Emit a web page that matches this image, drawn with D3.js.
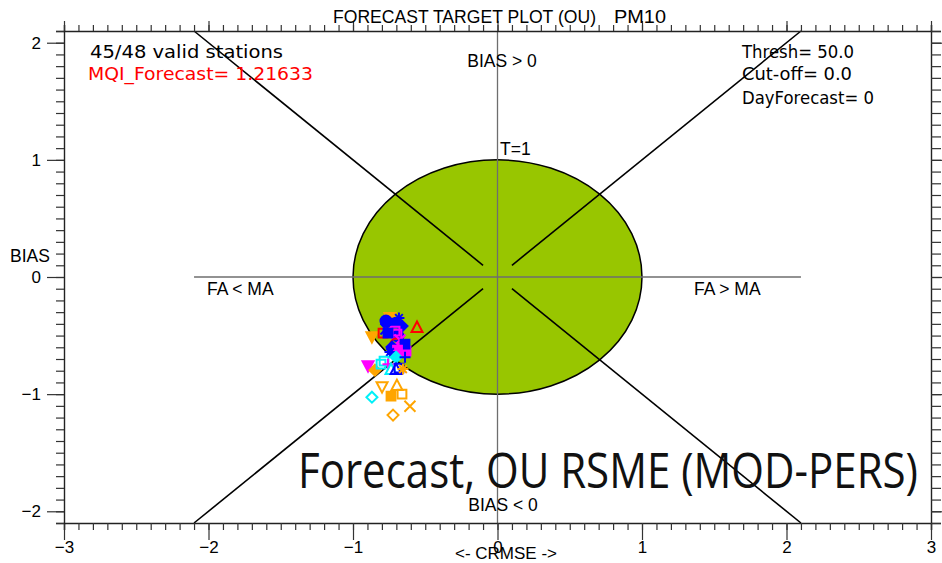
<!DOCTYPE html>
<html>
<head>
<meta charset="utf-8">
<script src="https://cdn.jsdelivr.net/npm/d3@7"></script>
<style>
  html, body { margin: 0; padding: 0; background: #fff; }
  svg { display: block; }
</style>
</head>
<body>
<svg id="chart" width="942" height="563"></svg>
<script>
// Station results: centred RMSE (x) and normalised bias (y)
const crmse = [-0.744, -0.557, -0.772, -0.682, -0.709, -0.661, -0.689, -0.869, -0.792, -0.709,
               -0.696, -0.758, -0.772, -0.702, -0.675, -0.661, -0.633, -0.730, -0.640, -0.692,
               -0.744, -0.702, -0.640, -0.896, -0.848, -0.806, -0.785, -0.758, -0.737, -0.702,
               -0.682, -0.654, -0.869, -0.799, -0.696, -0.737, -0.661, -0.606, -0.723];
const bias  = [-0.350, -0.427, -0.376, -0.350, -0.393, -0.419, -0.504, -0.513, -0.479, -0.462,
               -0.487, -0.479, -0.444, -0.573, -0.538, -0.607, -0.632, -0.598, -0.573, -0.624,
               -0.641, -0.684, -0.684, -0.761, -0.795, -0.744, -0.718, -0.744, -0.786, -0.786,
               -0.778, -0.786, -1.026, -0.940, -0.923, -1.017, -1.000, -1.103, -1.179];
const symbols = ["triDown", "triUp", "circle", "asterisk", "square", "diamond", "circle", "triDown", "square", "square",
                 "square", "square", "x", "circle", "x", "square", "square", "diamond", "square", "square",
                 "asterisk", "diamond", "plus", "triDown", "diamond", "square", "square", "plus", "triUp", "triUp",
                 "square", "asterisk", "diamond", "triDown", "triUp", "square", "square", "x", "diamond"];
const colors = ["orange", "red", "blue", "blue", "blue", "blue", "blue", "orange", "red", "magenta",
                "magenta", "blue", "blue", "red", "magenta", "magenta", "magenta", "blue", "blue", "magenta",
                "blue", "cyan", "blue", "magenta", "orange", "cyan", "cyan", "magenta", "cyan", "blue",
                "blue", "orange", "cyan", "orange", "orange", "orange", "orange", "orange", "orange"];
const filled = [true, false, true, false, true, true, true, true, false, false,
                false, true, false, false, false, false, true, true, true, true,
                false, true, false, true, true, false, false, false, false, false,
                false, false, false, false, false, true, false, false, false];

const xMajorTicks = [-3, -2, -1, 0, 1, 2, 3];
const yMajorTicks = [-2, -1, 0, 1, 2];
const xDomain = [-3, 3];
const yDomain = [-2.1, 2.1];
const diagonalExtent = 2.1;   // corner lines run from ±2.1 ...
const diagonalInner = 0.1;    // ... to ±0.1
const targetRadius = 1;       // T=1

const palette = { blue: "#0000ff", red: "#ff0000", magenta: "#ff00ff", cyan: "#00f0f8", orange: "#ffa500" };

const svg = d3.select("#chart");
const plotLeft = 64, plotRight = 931, plotTop = 31, plotBottom = 523;

const x = d3.scaleLinear().domain(xDomain).range([plotLeft, plotRight]);
const y = d3.scaleLinear().domain(yDomain).range([plotBottom, plotTop]);

const labelFont = "'Liberation Sans', Arial, sans-serif";
const idlFont = "'DejaVu Sans', sans-serif";

// ---- target circle
svg.append("ellipse")
  .attr("cx", x(0)).attr("cy", y(0))
  .attr("rx", x(targetRadius) - x(0)).attr("ry", y(0) - y(targetRadius))
  .attr("fill", "#98c600").attr("stroke", "#000").attr("stroke-width", 1.5);

// ---- centre cross
svg.append("line")
  .attr("x1", x(-diagonalExtent)).attr("x2", x(diagonalExtent))
  .attr("y1", y(0)).attr("y2", y(0))
  .attr("stroke", "#6e6e6e").attr("stroke-width", 1.3);
svg.append("line")
  .attr("x1", x(0)).attr("x2", x(0))
  .attr("y1", y(yDomain[0])).attr("y2", y(yDomain[1]))
  .attr("stroke", "#6e6e6e").attr("stroke-width", 1.3);

// ---- diagonals from the corners toward the centre
const diagonals = [[-1, 1], [1, 1], [-1, -1], [1, -1]];
svg.selectAll("line.diag").data(diagonals).enter().append("line")
  .attr("class", "diag")
  .attr("x1", d => x(d[0] * diagonalExtent)).attr("y1", d => y(d[1] * diagonalExtent))
  .attr("x2", d => x(d[0] * diagonalInner)).attr("y2", d => y(d[1] * diagonalInner))
  .attr("stroke", "#000").attr("stroke-width", 1.6);

// ---- axes
function minorValues(lo, hi) {
  const out = [];
  for (let i = Math.round(lo * 10); i <= Math.round(hi * 10); i++) out.push(i / 10);
  return out;
}
const xMinor = minorValues(xDomain[0], xDomain[1]);
const yMinor = minorValues(yDomain[0], yDomain[1]);

function styleAxis(g) {
  g.select(".domain").attr("stroke", "#222").attr("stroke-width", 1.4);
  g.selectAll(".tick line").attr("stroke", "#333").attr("stroke-width", 1.2);
  g.selectAll("text").attr("font-family", labelFont).attr("font-size", 17).attr("fill", "#000");
}

// bottom
svg.append("g").attr("transform", `translate(0,${plotBottom})`)
  .call(d3.axisBottom(x).tickValues(xMinor).tickSize(7).tickFormat(""))
  .call(styleAxis);
svg.append("g").attr("transform", `translate(0,${plotBottom})`)
  .call(d3.axisBottom(x).tickValues(xMajorTicks).tickSize(17).tickPadding(1).tickFormat(d3.format("d")))
  .call(styleAxis)
  .call(g => g.select(".domain").remove());
// top
svg.append("g").attr("transform", `translate(0,${plotTop})`)
  .call(d3.axisTop(x).tickValues(xMinor).tickSize(6).tickFormat(""))
  .call(styleAxis);
svg.append("g").attr("transform", `translate(0,${plotTop})`)
  .call(d3.axisTop(x).tickValues(xMajorTicks).tickSize(10).tickFormat(""))
  .call(styleAxis)
  .call(g => g.select(".domain").remove());
// left
svg.append("g").attr("transform", `translate(${plotLeft},0)`)
  .call(d3.axisLeft(y).tickValues(yMinor).tickSize(8).tickFormat(""))
  .call(styleAxis);
svg.append("g").attr("transform", `translate(${plotLeft},0)`)
  .call(d3.axisLeft(y).tickValues(yMajorTicks).tickSize(17).tickPadding(6).tickFormat(d3.format("d")))
  .call(styleAxis)
  .call(g => g.select(".domain").remove());
// right
svg.append("g").attr("transform", `translate(${plotRight},0)`)
  .call(d3.axisRight(y).tickValues(yMinor).tickSize(10).tickFormat(""))
  .call(styleAxis);
svg.append("g").attr("transform", `translate(${plotRight},0)`)
  .call(d3.axisRight(y).tickValues(yMajorTicks).tickSize(17).tickFormat(""))
  .call(styleAxis)
  .call(g => g.select(".domain").remove());

// ---- station markers
function markerPath(name, r) {
  const h = r * 0.9;
  switch (name) {
    case "triUp":   return `M0,${-r}L${r},${h}L${-r},${h}Z`;
    case "triDown": return `M0,${r}L${r},${-h}L${-r},${-h}Z`;
    case "square":  return `M${-r * 0.8},${-r * 0.8}H${r * 0.8}V${r * 0.8}H${-r * 0.8}Z`;
    case "diamond": return `M0,${-r}L${r},0L0,${r}L${-r},0Z`;
    case "circle":  return `M${r},0A${r},${r} 0 1,1 ${-r},0A${r},${r} 0 1,1 ${r},0Z`;
    case "plus":    return `M${-r},0H${r}M0,${-r}V${r}`;
    case "x":       return `M${-r},${-r}L${r},${r}M${-r},${r}L${r},${-r}`;
    case "asterisk":
      return `M${-r},0H${r}M0,${-r}V${r}M${-r * 0.7},${-r * 0.7}L${r * 0.7},${r * 0.7}M${-r * 0.7},${r * 0.7}L${r * 0.7},${-r * 0.7}`;
  }
}
const stations = crmse.map((c, i) => ({ c, b: bias[i], s: symbols[i], col: palette[colors[i]], f: filled[i] }));
svg.append("g").selectAll("path").data(stations).enter().append("path")
  .attr("transform", d => `translate(${x(d.c)},${y(d.b)})`)
  .attr("d", d => markerPath(d.s, 5.5))
  .attr("fill", d => d.f ? d.col : "none")
  .attr("stroke", d => d.col)
  .attr("stroke-width", 2);

// ---- quadrant and axis labels
const lab = (t, px, py, opts = {}) => {
  const el = svg.append("text")
    .attr("x", px).attr("y", py)
    .attr("font-family", opts.font || labelFont)
    .attr("font-size", opts.size || 17.5)
    .attr("text-anchor", opts.anchor || "start")
    .attr("fill", opts.fill || "#000")
    .text(t);
  if (opts.len) el.attr("textLength", opts.len).attr("lengthAdjust", "spacingAndGlyphs");
  return el;
};

lab("FORECAST TARGET PLOT (OU)", 333, 23, { len: 263 });
lab("PM10", 614, 23, { len: 52 });
lab("BIAS > 0", 502, 67, { anchor: "middle" });
lab("BIAS < 0", 503, 511, { anchor: "middle" });
lab("T=1", 500, 155);
lab("FA < MA", 207, 295);
lab("FA > MA", 694, 295);
lab("BIAS", 10, 262);
lab("<- CRMSE ->", 506, 559, { anchor: "middle", size: 17 });

// ---- run information
lab("45/48 valid stations", 90, 58, { font: idlFont, size: 18.5, len: 193 });
lab("MQI_Forecast= 1.21633", 88, 80, { font: idlFont, size: 18.5, fill: "#ff0000", len: 225 });
lab("Thresh= 50.0", 742, 58, { font: idlFont, size: 18.5, len: 112 });
lab("Cut-off= 0.0", 742, 80, { font: idlFont, size: 18.5, len: 110 });
lab("DayForecast= 0", 742, 104, { font: idlFont, size: 18.5, len: 132 });

// ---- slide caption
svg.append("text")
  .attr("x", 298).attr("y", 488)
  .attr("font-family", "'Open Sans', 'Noto Sans', sans-serif")
  .attr("font-size", 49)
  .attr("textLength", 620).attr("lengthAdjust", "spacingAndGlyphs")
  .attr("fill", "#111")
  .text("Forecast, OU RSME (MOD-PERS)");
</script>
</body>
</html>
